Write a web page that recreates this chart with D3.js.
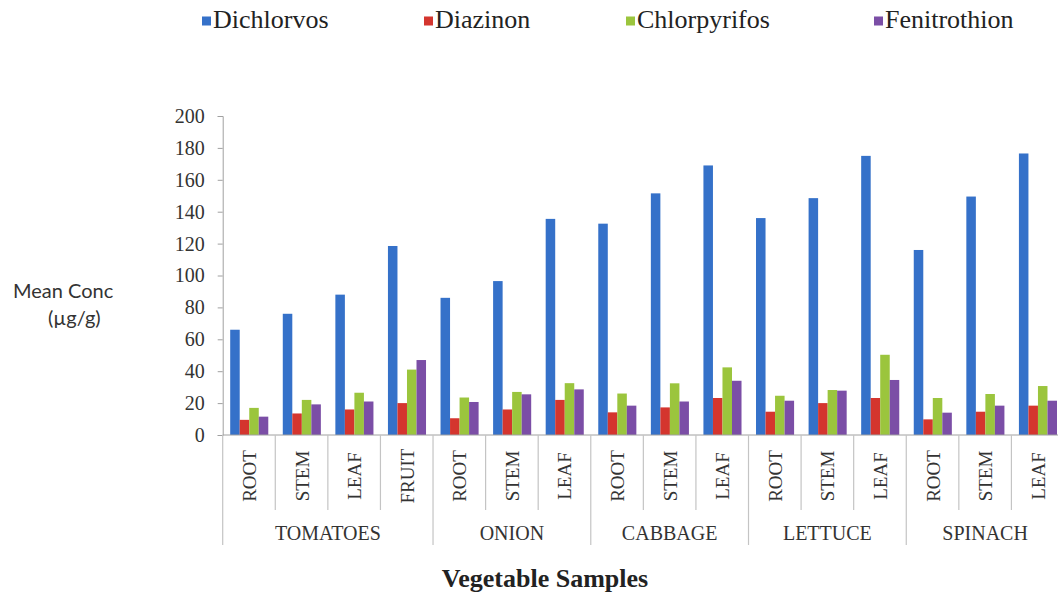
<!DOCTYPE html>
<html>
<head>
<meta charset="utf-8">
<script src="https://cdn.jsdelivr.net/npm/d3@7"></script>
<style>
  body { margin: 0; background: #fff; }
  svg { display: block; }
</style>
</head>
<body>
<svg id="chart" width="1058" height="595"></svg>
<script>
// groups + parts (x categories)
const groups = ["TOMATOES", "ONION", "CABBAGE", "LETTUCE", "SPINACH"];
const parts = [
    ["ROOT", "STEM", "LEAF", "FRUIT"],
    ["ROOT", "STEM", "LEAF"],
    ["ROOT", "STEM", "LEAF"],
    ["ROOT", "STEM", "LEAF"],
    ["ROOT", "STEM", "LEAF"]
];
const seriesNames = ["Dichlorvos", "Diazinon", "Chlorpyrifos", "Fenitrothion"];
const seriesColors = ["#3571c9", "#d4352e", "#9bc53d", "#7b4ea6"];

// values, one entry per sample in order
const dichlorvos   = [66, 76, 88, 118.5, 86, 96.5, 135.5, 132.5, 151.5, 169, 136, 148.5, 175, 116, 149.5, 176.5];
const diazinon     = [9.5, 13.5, 16, 20, 10.5, 16, 22, 14.2, 17.3, 23.2, 14.6, 20, 23.2, 9.8, 14.6, 18.4];
const chlorpyrifos = [17, 22, 26.5, 41, 23.5, 27, 32.5, 26, 32.4, 42.4, 24.6, 28.2, 50.3, 23.2, 25.7, 30.7];
const fenitrothion = [11.5, 19.2, 21, 47, 20.7, 25.5, 28.6, 18.4, 21, 34, 21.5, 27.8, 34.5, 14, 18.4, 21.5];
const yTicks = [0, 20, 40, 60, 80, 100, 120, 140, 160, 180, 200];

const svg = d3.select("#chart");
const plotLeft = 222.7, plotRight = 1064, plotTop = 116, plotBottom = 435;

// flatten categories
const samples = [];
groups.forEach((g, gi) => parts[gi].forEach(p => samples.push({ group: g, part: p })));
const allSeries = [dichlorvos, diazinon, chlorpyrifos, fenitrothion];
samples.forEach((s, i) => { s.values = allSeries.map(arr => arr[i]); s.id = i; });

const x0 = d3.scaleBand().domain(samples.map(d => d.id)).range([plotLeft, plotRight]).padding(0);
const x1 = d3.scaleBand().domain(seriesNames).range([7.5, x0.bandwidth() - 7]).padding(0);
const y = d3.scaleLinear().domain([0, 200]).range([plotBottom, plotTop]);

// bars
const bar = svg.append("g").selectAll("g")
    .data(samples)
    .enter().append("g")
    .attr("transform", d => `translate(${x0(d.id)},0)`);

bar.selectAll("rect")
    .data(d => d.values.map((v, i) => ({ key: seriesNames[i], value: v, color: seriesColors[i] })))
    .enter().append("rect")
    .attr("x", d => x1(d.key))
    .attr("width", x1.bandwidth())
    .attr("y", d => y(d.value))
    .attr("height", d => y(0) - y(d.value))
    .attr("fill", d => d.color);

// y axis
const yAxis = d3.axisLeft(y).tickValues(yTicks).tickSize(5).tickPadding(13);
const ya = svg.append("g").attr("transform", `translate(${plotLeft},0)`).call(yAxis);
ya.select(".domain").attr("stroke", "#a0a0a0");
ya.selectAll(".tick line").attr("stroke", "#a0a0a0");
ya.selectAll(".tick text")
    .attr("font-family", "'Liberation Serif', 'Times New Roman', serif")
    .attr("font-size", 20)
    .attr("fill", "#333");

// x axis line
svg.append("line")
    .attr("x1", plotLeft).attr("x2", plotRight)
    .attr("y1", plotBottom).attr("y2", plotBottom)
    .attr("stroke", "#a0a0a0");

// separators: inner short, group boundaries long
let idx = 0;
const groupStarts = [];
groups.forEach((g, gi) => { groupStarts.push(idx); idx += parts[gi].length; });
const xBounds = d3.range(samples.length + 1).map(i => plotLeft + i * x0.bandwidth());
xBounds.forEach((xb, i) => {
    const isGroup = groupStarts.includes(i) || i === samples.length;
    svg.append("line")
        .attr("x1", xb).attr("x2", xb)
        .attr("y1", plotBottom).attr("y2", isGroup ? 545 : 510)
        .attr("stroke", "#c4c4c4")
        .attr("stroke-width", 1.2);
});

// part labels (rotated)
svg.append("g").selectAll("text")
    .data(samples)
    .enter().append("text")
    .attr("transform", d => `translate(${x0(d.id) + x0.bandwidth() / 2 + 7},476) rotate(-90)`)
    .attr("text-anchor", "middle")
    .attr("font-family", "'Liberation Serif', 'Times New Roman', serif")
    .attr("font-size", 19)
    .attr("fill", "#333")
    .text(d => d.part);

// group labels
svg.append("g").selectAll("text")
    .data(groups)
    .enter().append("text")
    .attr("x", (g, gi) => {
        const a = xBounds[groupStarts[gi]];
        const b = xBounds[groupStarts[gi] + parts[gi].length];
        return (a + b) / 2;
    })
    .attr("y", 540)
    .attr("text-anchor", "middle")
    .attr("font-family", "'Liberation Serif', 'Times New Roman', serif")
    .attr("font-size", 20)
    .attr("fill", "#333")
    .text(d => d);

// axis titles
svg.append("text")
    .attr("x", 545).attr("y", 587)
    .attr("text-anchor", "middle")
    .attr("font-family", "'Liberation Serif', 'Times New Roman', serif")
    .attr("font-size", 26)
    .attr("font-weight", "bold")
    .attr("fill", "#222")
    .text("Vegetable Samples");

svg.append("text")
    .attr("x", 13).attr("y", 298)
    .attr("font-family", "Lato, 'Open Sans', sans-serif")
    .attr("font-size", 20)
    .attr("fill", "#333")
    .text("Mean Conc");
svg.append("text")
    .attr("x", 48).attr("y", 325)
    .attr("font-family", "Lato, 'Open Sans', sans-serif")
    .attr("font-size", 20)
    .attr("fill", "#333")
    .text("(µg/g)");

// legend
const legendX = [202, 424, 626, 874];
const legend = svg.append("g").selectAll("g")
    .data(seriesNames)
    .enter().append("g")
    .attr("transform", (d, i) => `translate(${legendX[i]},0)`);
legend.append("rect")
    .attr("x", 0).attr("y", 16.5)
    .attr("width", 9).attr("height", 9)
    .attr("fill", (d, i) => seriesColors[i]);
legend.append("text")
    .attr("x", 11).attr("y", 28)
    .attr("font-family", "'Liberation Serif', 'Times New Roman', serif")
    .attr("font-size", 26)
    .attr("fill", "#222")
    .text(d => d);
</script>
</body>
</html>
